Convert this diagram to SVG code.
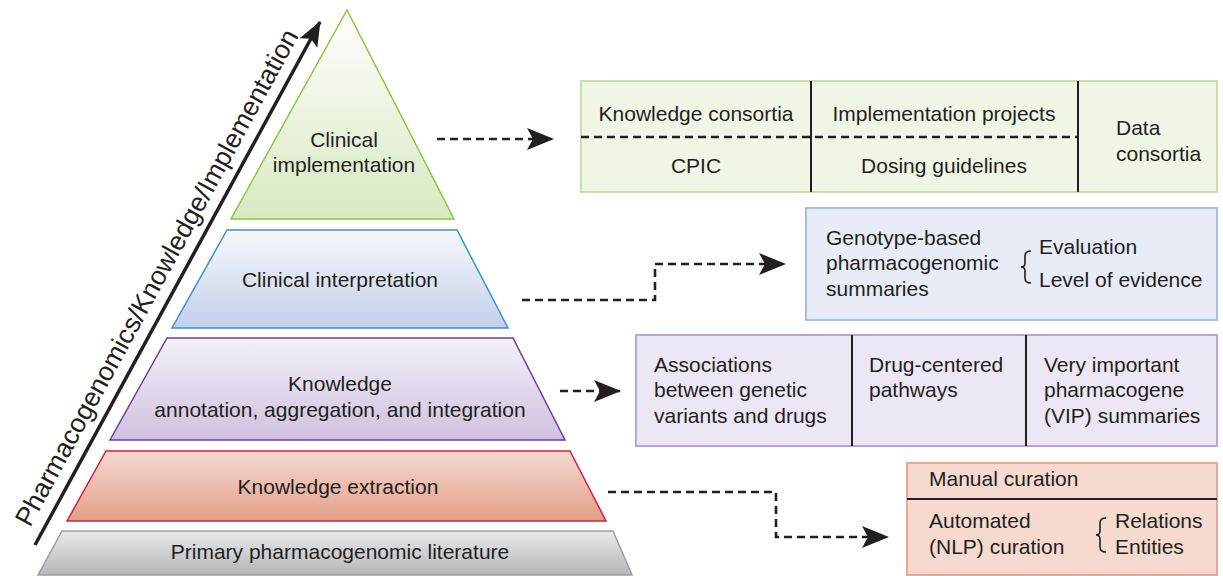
<svg xmlns="http://www.w3.org/2000/svg" width="1223" height="576" viewBox="0 0 1223 576">
<style>
text { font-family: "Liberation Sans", Arial, sans-serif; font-size: 21px; fill: #231f20; }
.c { text-anchor: middle; }
.dash { fill: none; stroke: #231f20; stroke-width: 2.6; stroke-dasharray: 8 5; }
.div { stroke: #231f20; stroke-width: 2; fill: none; }
.brace { fill: none; stroke: #231f20; stroke-width: 1.6; }
</style>
<defs>
<linearGradient id="gGreen" x1="0" y1="0" x2="0" y2="1"><stop offset="0" stop-color="#ffffff"/><stop offset="1" stop-color="#d8e9c1"/></linearGradient>
<linearGradient id="gBlue" x1="0" y1="0" x2="0" y2="1"><stop offset="0" stop-color="#f7f8fc"/><stop offset="1" stop-color="#c2d0ea"/></linearGradient>
<linearGradient id="gPurple" x1="0" y1="0" x2="0" y2="1"><stop offset="0" stop-color="#f3f0f8"/><stop offset="1" stop-color="#cfc1e0"/></linearGradient>
<linearGradient id="gRed" x1="0" y1="0" x2="0" y2="1"><stop offset="0" stop-color="#f6dad1"/><stop offset="1" stop-color="#e39e89"/></linearGradient>
<linearGradient id="gGray" x1="0" y1="0" x2="0" y2="1"><stop offset="0" stop-color="#e9eaeb"/><stop offset="1" stop-color="#b3b5b8"/></linearGradient>
<marker id="arr" markerUnits="userSpaceOnUse" markerWidth="28" markerHeight="24" refX="26" refY="12" orient="auto">
<path d="M0,1 L27,12 L0,23 L6,12 Z" fill="#231f20"/>
</marker>
<marker id="arrBig" markerUnits="userSpaceOnUse" markerWidth="26" markerHeight="24" refX="24" refY="12" orient="auto">
<path d="M0,2 L25,12 L0,22 L5,12 Z" fill="#231f20"/>
</marker>
</defs>

<!-- axis arrow -->
<g id="axis">
<line x1="35" y1="545" x2="320" y2="22" stroke="#231f20" stroke-width="3.5" marker-end="url(#arrBig)"/>
<text transform="translate(30,528) rotate(-61.35)" style="font-size:26.5px">Pharmacogenomics/Knowledge/Implementation</text>
</g>

<!-- pyramid -->
<g id="layer-clinical-implementation">
<polygon points="347,10 454,219 231,219" fill="url(#gGreen)" stroke="#8cc540" stroke-width="1.5"/>
<text class="c" x="344" y="147">Clinical</text>
<text class="c" x="344" y="172">implementation</text>
</g>
<g id="layer-clinical-interpretation">
<polygon points="227,230 457,230 508,328 172,328" fill="url(#gBlue)" stroke="#3b8fd0" stroke-width="1.5"/>
<text class="c" x="340" y="287">Clinical interpretation</text>
</g>
<g id="layer-knowledge-annotation">
<polygon points="167,338 513,338 565,440 110,440" fill="url(#gPurple)" stroke="#6b3fa0" stroke-width="1.5"/>
<text class="c" x="340" y="391">Knowledge</text>
<text class="c" x="340" y="417">annotation, aggregation, and integration</text>
</g>
<g id="layer-knowledge-extraction">
<polygon points="106,451 570,451 606,521 67,521" fill="url(#gRed)" stroke="#d0223b" stroke-width="1.5"/>
<text class="c" x="338" y="494">Knowledge extraction</text>
</g>
<g id="layer-primary-literature">
<polygon points="62,531 613,531 632,575 38,575" fill="url(#gGray)" stroke="#9c9ea1" stroke-width="1.5"/>
<text class="c" x="340" y="559">Primary pharmacogenomic literature</text>
</g>

<!-- right boxes -->
<g id="box-implementation">
<rect x="581" y="81" width="636" height="111" fill="#eff6e6" stroke="#c8e0a8" stroke-width="2"/>
<line class="div" x1="811" y1="81" x2="811" y2="192"/>
<line class="div" x1="1078" y1="81" x2="1078" y2="192"/>
<line class="dash" x1="581" y1="137" x2="1078" y2="137"/>
<text class="c" x="696" y="121">Knowledge consortia</text>
<text class="c" x="696" y="173">CPIC</text>
<text class="c" x="944" y="121">Implementation projects</text>
<text class="c" x="944" y="173">Dosing guidelines</text>
<text x="1116" y="135">Data</text>
<text x="1116" y="161">consortia</text>
</g>
<g id="box-interpretation">
<rect x="806" y="208" width="411" height="112" fill="#e7ecf7" stroke="#a8bee3" stroke-width="2"/>
<text x="826" y="245">Genotype-based</text>
<text x="826" y="270">pharmacogenomic</text>
<text x="826" y="296">summaries</text>
<path class="brace" d="M1031,251 Q1025,251 1025,256 L1025,263 Q1025,267 1021,267 Q1025,267 1025,271 L1025,278 Q1025,283 1031,283"/>
<text x="1039" y="254">Evaluation</text>
<text x="1039" y="287">Level of evidence</text>
</g>
<g id="box-knowledge">
<rect x="636" y="335" width="581" height="111" fill="#ece7f4" stroke="#b9a5d4" stroke-width="2"/>
<line class="div" x1="852" y1="335" x2="852" y2="446"/>
<line class="div" x1="1026" y1="335" x2="1026" y2="446"/>
<text x="654" y="372">Associations</text>
<text x="654" y="397">between genetic</text>
<text x="654" y="423">variants and drugs</text>
<text x="869" y="372">Drug-centered</text>
<text x="869" y="397">pathways</text>
<text x="1044" y="372">Very important</text>
<text x="1044" y="397">pharmacogene</text>
<text x="1044" y="423">(VIP) summaries</text>
</g>
<g id="box-extraction">
<rect x="907" y="463" width="310" height="112" fill="#f6d9cf" stroke="#e8a896" stroke-width="2"/>
<line class="div" x1="907" y1="499" x2="1217" y2="499"/>
<text x="929" y="486">Manual curation</text>
<text x="929" y="528">Automated</text>
<text x="929" y="554">(NLP) curation</text>
<path class="brace" d="M1106,518 Q1100,518 1100,523 L1100,531 Q1100,535 1096,535 Q1100,535 1100,539 L1100,547 Q1100,552 1106,552"/>
<text x="1115" y="528">Relations</text>
<text x="1115" y="554">Entities</text>
</g>

<!-- connectors -->
<g id="connectors">
<path class="dash" d="M437,139 L553,139" marker-end="url(#arr)"/>
<path class="dash" d="M522,300 L655,300 L655,264 L785,264" marker-end="url(#arr)"/>
<path class="dash" d="M560,391 L620,391" marker-end="url(#arr)"/>
<path class="dash" d="M608,492 L776,492 L776,537 L888,537" marker-end="url(#arr)"/>
</g>
</svg>
